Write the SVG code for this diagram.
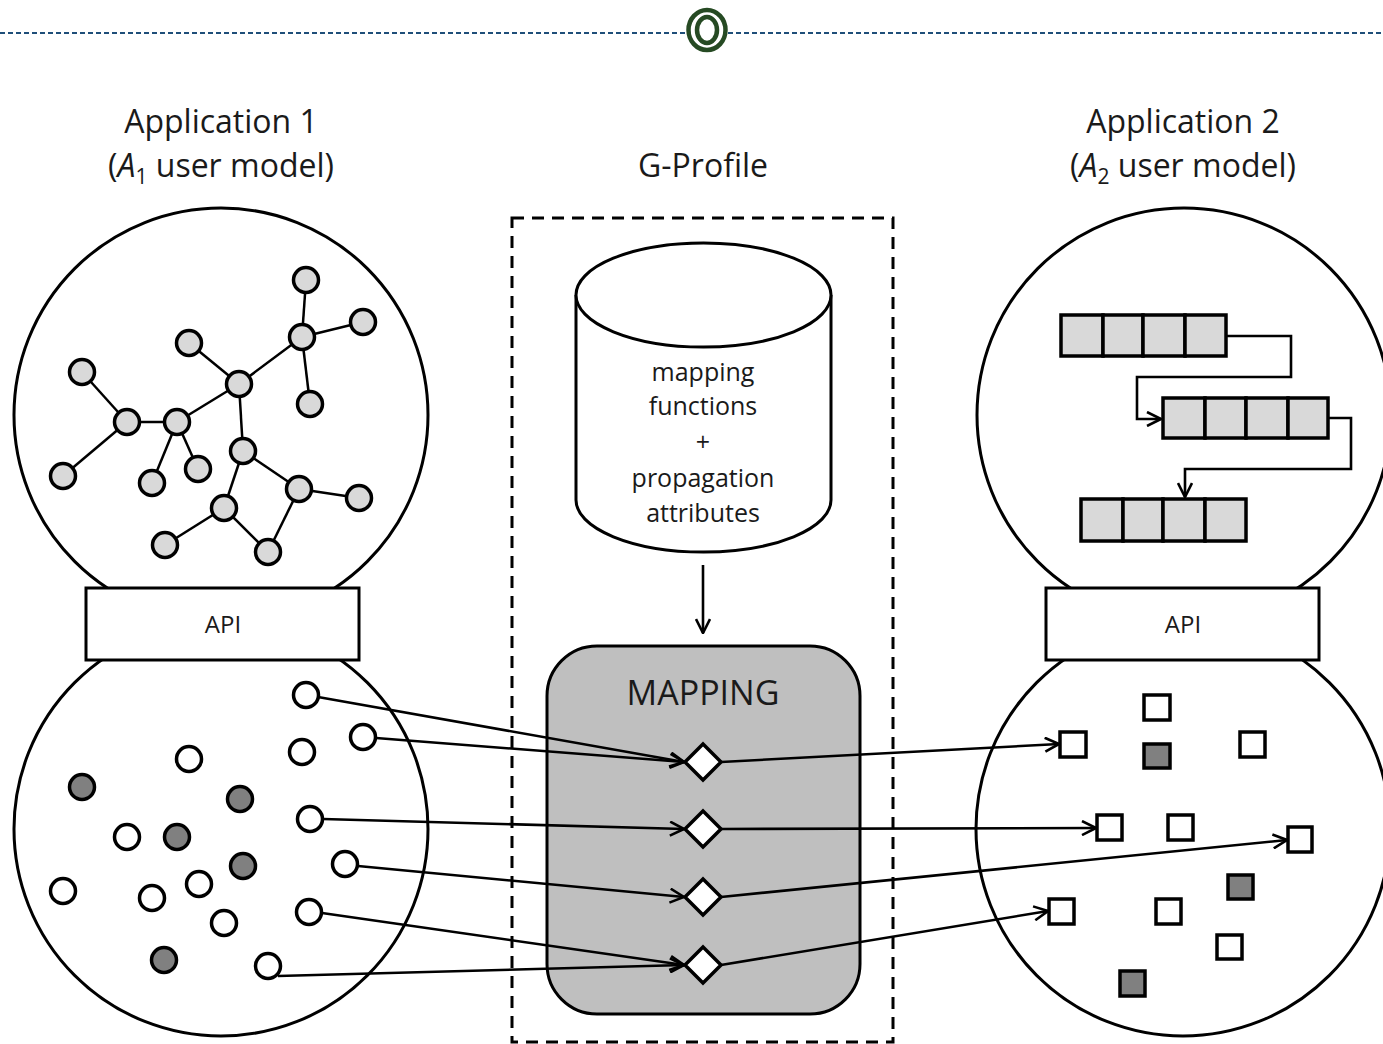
<svg xmlns="http://www.w3.org/2000/svg" width="1383" height="1044" viewBox="0 0 1383 1044">
<style>
text{font-family:"Open Sans","Liberation Sans",sans-serif;fill:#1a1a1a;text-anchor:middle}
.big{fill:#fff;stroke:#000;stroke-width:3}
.gn{fill:#d9d9d9;stroke:#000;stroke-width:3.5}
.ge{stroke:#000;stroke-width:2.5;fill:none}
.wc{fill:#fff;stroke:#000;stroke-width:3.5}
.dc{fill:#808080;stroke:#000;stroke-width:3.5}
.ws{fill:#fff;stroke:#000;stroke-width:3.5}
.ds{fill:#808080;stroke:#000;stroke-width:3.5}
.cell{fill:#d9d9d9;stroke:#000;stroke-width:3.5}
.con{stroke:#000;stroke-width:2.6;fill:none}
.dia{fill:#fff;stroke:#000;stroke-width:3.5}
</style>
<defs>
<marker id="arr" viewBox="0 0 16 16" refX="15" refY="8" markerWidth="16" markerHeight="16" orient="auto" markerUnits="userSpaceOnUse">
<path d="M1,1 L15,8 L1,15" fill="none" stroke="#000" stroke-width="2.6"/>
</marker>
</defs>
<rect width="1383" height="1044" fill="#fff"/>
<g id="header">
<line x1="0" y1="33" x2="1383" y2="33" stroke="#1f4e79" stroke-width="2" stroke-dasharray="5,3"/>
<ellipse cx="707" cy="30" rx="18.5" ry="20" fill="#fff" stroke="#264a23" stroke-width="4.5"/>
<ellipse cx="707" cy="30" rx="10" ry="13" fill="none" stroke="#264a23" stroke-width="4.5"/>
</g>
<g id="app1-title">
<text x="221" y="133" font-size="32">Application 1</text>
<text x="221" y="177" font-size="32">(<tspan font-style="italic">A</tspan><tspan font-size="21" dy="7">1</tspan><tspan dy="-7"> user model)</tspan></text>
</g>
<g id="gprofile-title"><text x="703" y="177" font-size="32">G-Profile</text></g>
<g id="app2-title">
<text x="1183" y="133" font-size="32">Application 2</text>
<text x="1183" y="177" font-size="32">(<tspan font-style="italic">A</tspan><tspan font-size="21" dy="7">2</tspan><tspan dy="-7"> user model)</tspan></text>
</g>
<g id="app1-model">
<circle class="big" cx="221" cy="415" r="207"/>
<g class="ge">
<line x1="306" y1="280" x2="302" y2="337"/><line x1="302" y1="337" x2="363" y2="322"/><line x1="302" y1="337" x2="310" y2="404"/><line x1="302" y1="337" x2="239" y2="384"/>
<line x1="189" y1="343" x2="239" y2="384"/><line x1="239" y1="384" x2="177" y2="422"/><line x1="239" y1="384" x2="243" y2="451"/>
<line x1="82" y1="372" x2="127" y2="422"/><line x1="127" y1="422" x2="177" y2="422"/><line x1="127" y1="422" x2="63" y2="476"/>
<line x1="177" y1="422" x2="152" y2="483"/><line x1="177" y1="422" x2="198" y2="469"/>
<line x1="243" y1="451" x2="299" y2="489"/><line x1="243" y1="451" x2="224" y2="508"/><line x1="299" y1="489" x2="359" y2="498"/>
<line x1="299" y1="489" x2="268" y2="552"/><line x1="224" y1="508" x2="165" y2="545"/><line x1="224" y1="508" x2="268" y2="552"/>
</g>
<g class="gn">
<circle cx="306" cy="280" r="12.5"/><circle cx="302" cy="337" r="12.5"/><circle cx="363" cy="322" r="12.5"/><circle cx="310" cy="404" r="12.5"/>
<circle cx="189" cy="343" r="12.5"/><circle cx="239" cy="384" r="12.5"/><circle cx="82" cy="372" r="12.5"/><circle cx="127" cy="422" r="12.5"/>
<circle cx="177" cy="422" r="12.5"/><circle cx="63" cy="476" r="12.5"/><circle cx="152" cy="483" r="12.5"/><circle cx="198" cy="469" r="12.5"/>
<circle cx="243" cy="451" r="12.5"/><circle cx="299" cy="489" r="12.5"/><circle cx="359" cy="498" r="12.5"/><circle cx="224" cy="508" r="12.5"/>
<circle cx="165" cy="545" r="12.5"/><circle cx="268" cy="552" r="12.5"/>
</g>
</g>
<g id="app1-data">
<circle class="big" cx="221" cy="829" r="207"/>
<g class="wc">
<circle cx="306" cy="695" r="12.5"/><circle cx="363" cy="737" r="12.5"/><circle cx="302" cy="752" r="12.5"/><circle cx="189" cy="759" r="12.5"/>
<circle cx="310" cy="819" r="12.5"/><circle cx="127" cy="837" r="12.5"/><circle cx="345" cy="864" r="12.5"/><circle cx="63" cy="891" r="12.5"/>
<circle cx="199" cy="884" r="12.5"/><circle cx="152" cy="898" r="12.5"/><circle cx="309" cy="912" r="12.5"/><circle cx="224" cy="923" r="12.5"/>
<circle cx="268" cy="966" r="12.5"/>
</g>
<g class="dc">
<circle cx="82" cy="787" r="12.5"/><circle cx="240" cy="799" r="12.5"/><circle cx="177" cy="837" r="12.5"/><circle cx="243" cy="866" r="12.5"/><circle cx="164" cy="960" r="12.5"/>
</g>
</g>
<g id="api1">
<rect class="big" x="86" y="588" width="273" height="72"/>
<text x="223" y="633" font-size="24">API</text>
</g>
<g id="app2-model">
<circle class="big" cx="1184" cy="415" r="207"/>
<g class="cell">
<rect x="1061" y="315" width="42" height="41"/><rect x="1103" y="315" width="40" height="41"/><rect x="1143" y="315" width="42" height="41"/><rect x="1185" y="315" width="41" height="41"/>
<rect x="1163" y="398" width="42" height="40"/><rect x="1205" y="398" width="41" height="40"/><rect x="1246" y="398" width="42" height="40"/><rect x="1288" y="398" width="40" height="40"/>
<rect x="1081" y="499" width="42" height="42"/><rect x="1123" y="499" width="40" height="42"/><rect x="1163" y="499" width="42" height="42"/><rect x="1205" y="499" width="41" height="42"/>
</g>
<path class="con" d="M1226,336 H1291 V377 H1137 V419 H1161" marker-end="url(#arr)"/>
<path class="con" d="M1328,418 H1351 V469 H1185 V497" marker-end="url(#arr)"/>
</g>
<g id="app2-data">
<circle class="big" cx="1183" cy="829" r="207"/>
<g class="ws">
<rect x="1144" y="695" width="26" height="25"/><rect x="1060" y="732" width="26" height="25"/><rect x="1240" y="732" width="25" height="25"/>
<rect x="1097" y="815" width="25" height="25"/><rect x="1168" y="815" width="25" height="25"/><rect x="1288" y="827" width="24" height="25"/>
<rect x="1049" y="899" width="25" height="25"/><rect x="1156" y="899" width="25" height="25"/><rect x="1217" y="935" width="25" height="24"/>
</g>
<g class="ds">
<rect x="1144" y="744" width="26" height="24"/><rect x="1228" y="875" width="25" height="24"/><rect x="1120" y="971" width="25" height="25"/>
</g>
</g>
<g id="api2">
<rect class="big" x="1046" y="588" width="273" height="72"/>
<text x="1183" y="633" font-size="24">API</text>
</g>
<g id="gprofile">
<rect x="512" y="218" width="381" height="824" fill="none" stroke="#000" stroke-width="3" stroke-dasharray="12,8"/>
</g>
<g id="store">
<path d="M576,295 V500 A127.5,52 0 0 0 831,500 V295" fill="#fff" stroke="#000" stroke-width="3"/>
<ellipse cx="703.5" cy="295" rx="127.5" ry="52" fill="#fff" stroke="#000" stroke-width="3"/>
<text x="703" y="381" font-size="25">mapping</text>
<text x="703" y="415" font-size="25">functions</text>
<text x="703" y="451" font-size="25">+</text>
<text x="703" y="487" font-size="25">propagation</text>
<text x="703" y="522" font-size="25">attributes</text>
</g>
<g id="mapping">
<rect x="547" y="646" width="313" height="368" rx="50" ry="50" fill="#bfbfbf" stroke="#000" stroke-width="3"/>
<text x="703" y="705" font-size="34">MAPPING</text>
</g>
<g id="connectors">
<line class="con" x1="703" y1="565" x2="703" y2="633" marker-end="url(#arr)"/>
<line class="con" x1="318" y1="697" x2="684" y2="762" marker-end="url(#arr)"/>
<line class="con" x1="376" y1="738" x2="684" y2="762" marker-end="url(#arr)"/>
<line class="con" x1="323" y1="819" x2="684" y2="829" marker-end="url(#arr)"/>
<line class="con" x1="358" y1="866" x2="684" y2="897" marker-end="url(#arr)"/>
<line class="con" x1="322" y1="913" x2="684" y2="965" marker-end="url(#arr)"/>
<line class="con" x1="278" y1="976" x2="684" y2="965" marker-end="url(#arr)"/>
<line class="con" x1="721" y1="762" x2="1059" y2="744" marker-end="url(#arr)"/>
<line class="con" x1="721" y1="829" x2="1096" y2="828" marker-end="url(#arr)"/>
<line class="con" x1="721" y1="897" x2="1287" y2="840" marker-end="url(#arr)"/>
<line class="con" x1="721" y1="965" x2="1048" y2="911" marker-end="url(#arr)"/>
</g>
<g id="mapping-functions" class="dia">
<polygon points="703,744 721,762 703,780 685,762"/>
<polygon points="703,811 721,829 703,847 685,829"/>
<polygon points="703,879 721,897 703,915 685,897"/>
<polygon points="703,947 721,965 703,983 685,965"/>
</g>
</svg>
